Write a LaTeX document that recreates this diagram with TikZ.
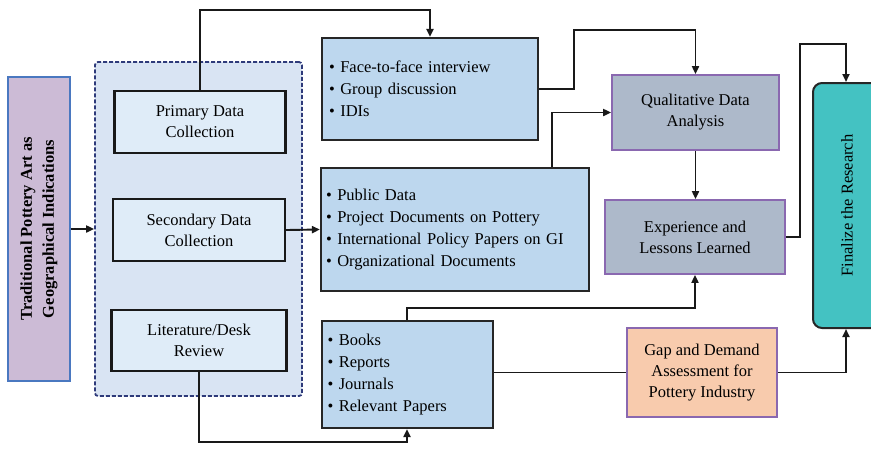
\documentclass[tikz,border=0pt]{standalone}
\usepackage{fontspec}
\setmainfont{Liberation Serif}
\usetikzlibrary{arrows.meta}
\definecolor{lilac}{HTML}{CCBBD6}
\definecolor{frameblue}{HTML}{4A78C0}
\definecolor{groupfill}{HTML}{D9E4F3}
\definecolor{groupline}{HTML}{2E3A7A}
\definecolor{stepfill}{HTML}{DFECF8}
\definecolor{listfill}{HTML}{BDD7EE}
\definecolor{slate}{HTML}{ADB9CA}
\definecolor{violetline}{HTML}{8A68B0}
\definecolor{peach}{HTML}{F8CBAD}
\definecolor{teal}{HTML}{44C2C2}
\tikzset{
  box/.style={rectangle, inner sep=0pt, align=center, font=\fontsize{16.5}{21}\selectfont},
  stepbox/.style={box, draw=black!90, line width=2.2pt, fill=stepfill},
  listbox/.style={box, draw=black!85, line width=2.2pt, fill=listfill, align=left,
    font=\fontsize{16.5}{22}\selectfont},
  resultbox/.style={box, draw=violetline, line width=1.8pt, fill=slate},
  link/.style={draw=black!90, line width=1.9pt},
  arr/.style={link, -{Triangle[length=8pt,width=7pt]}},
}
\begin{document}
\begin{tikzpicture}[x=1pt,y=-1pt]
\useasboundingbox (0,0) rectangle (871,448);

% source box on the left
\node[box, draw=frameblue, line width=2pt, fill=lilac,
      minimum width=62pt, minimum height=304pt] (src) at (39,229) {};
\node[rotate=90, align=center, font=\bfseries\fontsize{16.5}{22}\selectfont] at (src.center)
  {Traditional Pottery Art as\\Geographical Indications};

% dashed group of data collection methods
\node[rectangle, draw=groupline, dash pattern=on 4pt off 2pt, line width=1.8pt, fill=groupfill,
      rounded corners=3pt, minimum width=207pt, minimum height=334pt] (grp) at (198.5,229) {};

\node[stepbox, minimum width=171pt, minimum height=62pt] (prim) at (200,122) {Primary Data\\Collection};
\node[stepbox, minimum width=172pt, minimum height=62pt] (sec) at (199,230) {Secondary Data\\Collection};
\node[stepbox, minimum width=175pt, minimum height=61pt] (lit) at (199,340.5) {Literature/Desk\\Review};

% lists of sources
\node[listbox, minimum width=216pt, minimum height=102pt, text width=202pt] (face) at (430,89)
  {\textbullet\ Face-to-face interview\\\textbullet\ Group discussion\\\textbullet\ IDIs};
\node[listbox, minimum width=268pt, minimum height=123pt, text width=258pt] (pub) at (455,229.5)
  {\textbullet\ Public Data\\\textbullet\ Project Documents on Pottery\\\textbullet\ International Policy Papers on GI\\\textbullet\ Organizational Documents};
\node[listbox, minimum width=171pt, minimum height=107pt, text width=160pt] (books) at (407.5,374.5)
  {\textbullet\ Books\\\textbullet\ Reports\\\textbullet\ Journals\\\textbullet\ Relevant Papers};

% analysis and results
\node[resultbox, minimum width=167pt, minimum height=75pt] (qual) at (695.5,112.5) {Qualitative Data\\Analysis};
\node[resultbox, minimum width=180pt, minimum height=74pt] (exp) at (695,237) {Experience and\\Lessons Learned};
\node[box, draw=violetline, line width=1.8pt, fill=peach,
      minimum width=150pt, minimum height=89pt] (gap) at (702,372.5) {Gap and Demand\\Assessment for\\Pottery Industry};

% final step
\node[rectangle, rounded corners=9pt, draw=black!85, line width=2pt, fill=teal,
      minimum width=68pt, minimum height=245pt, inner sep=0pt] (fin) at (847,205.5) {};
\node[rotate=90, font=\fontsize{16.5}{21}\selectfont] at (fin.center) {Finalize the Research};

% connectors
\coordinate (c1) at (200,10);
\coordinate (c2) at (430,10);
\draw[arr] (src.east) -- (grp.west);
\draw[arr] (prim.north) -- (c1) -- (c2) -- (face.north);
\draw[arr] (sec.east) -- (pub.west);
\coordinate (c3) at (199,442);
\coordinate (c4) at (407,442);
\draw[arr] (lit.south) -- (c3) -- (c4) -- (c4 |- books.south);

\coordinate (c5) at (574,89);
\coordinate (c6) at (574,30);
\coordinate (c7) at (695.5,30);
\draw[arr] (face.east) -- (c5) -- (c6) -- (c7) -- (qual.north);
\coordinate (c8) at (552,112.5);
\draw[arr] (c8 |- pub.north) -- (c8) -- (qual.west);
\draw[arr] (qual.south) -- (qual.south |- exp.north);
\coordinate (c9) at (407,308);
\coordinate (c10) at (695,308);
\draw[arr] (c9 |- books.north) -- (c9) -- (c10) -- (exp.south);

\coordinate (c11) at (800,237);
\coordinate (c12) at (800,44);
\coordinate (c13) at (846,44);
\draw[arr] (exp.east) -- (c11) -- (c12) -- (c13) -- (c13 |- fin.north);
\draw[link] (books.east |- gap.west) -- (gap.west);
\coordinate (c14) at (846,372.5);
\draw[arr] (gap.east) -- (c14) -- (c14 |- fin.south);
\end{tikzpicture}
\end{document}
